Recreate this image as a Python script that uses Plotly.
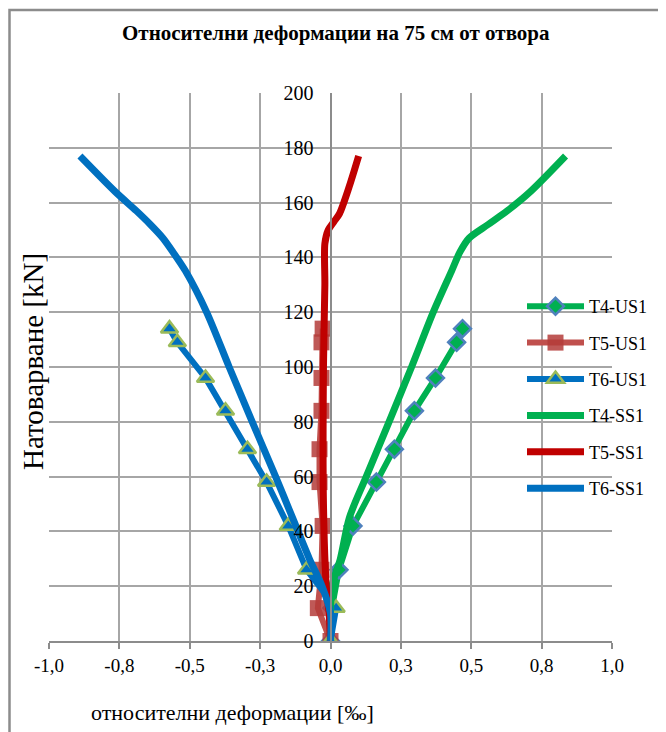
import plotly.graph_objects as go

# ---- data ----
load_us1 = [0, 12, 26, 42, 58, 70, 84, 96, 109, 114]
t4_us1 = [0.0, 0.005, 0.03, 0.08, 0.163, 0.227, 0.298, 0.373, 0.448, 0.469]
t5_us1 = [0.0, -0.045, -0.032, -0.028, -0.039, -0.039, -0.032, -0.032, -0.032, -0.028]
t6_us1 = [0.0, 0.02, -0.085, -0.15, -0.227, -0.295, -0.373, -0.444, -0.544, -0.572]

load_t4_ss1 = [0, 10, 20, 30, 45, 60, 80, 100, 120, 135, 142, 147, 152, 157, 164, 177]
t4_ss1 = [0.0, 0.0, 0.005, 0.035, 0.067, 0.127, 0.208, 0.288, 0.365, 0.43, 0.46, 0.492, 0.56, 0.628, 0.71, 0.835]

load_t5_ss1 = [0, 10, 20, 50, 100, 130, 145, 150, 153, 156, 166, 177]
t5_ss1 = [0.0, -0.005, -0.015, -0.025, -0.025, -0.02, -0.02, -0.008, 0.012, 0.032, 0.067, 0.1]

load_t6_ss1 = [0, 10, 20, 30, 45, 60, 80, 100, 120, 135, 142, 147, 152, 157, 164, 177]
t6_ss1 = [0.0, 0.0, -0.03, -0.075, -0.135, -0.195, -0.278, -0.36, -0.44, -0.515, -0.56, -0.595, -0.64, -0.69, -0.765, -0.89]

x_tickvals = [-1.0, -0.75, -0.5, -0.25, 0.0, 0.25, 0.5, 0.75, 1.0]
x_ticktext = ["-1,0", "-0,8", "-0,5", "-0,3", "0,0", "0,3", "0,5", "0,8", "1,0"]
y_tickvals = [0, 20, 40, 60, 80, 100, 120, 140, 160, 180, 200]

title_text = "Относителни деформации на 75 см от отвора"
x_title = "относителни деформации [‰]"
y_title = "Натоварване [kN]"

GREEN = "#00B050"
RED_US = "#C0504D"
RED_SS = "#C00000"
BLUE = "#0070C0"
DIAM_EDGE = "#4F81BD"
TRI_EDGE = "#9BBB59"
SERIF = "Liberation Serif, Times New Roman, serif"

fig = go.Figure()

fig.add_trace(go.Scatter(
    x=t4_us1, y=load_us1, name="T4-US1", mode="lines+markers", legendgroup="a",
    line=dict(color=GREEN, width=6),
    marker=dict(symbol="diamond", size=13, color=GREEN, line=dict(color=DIAM_EDGE, width=2.5))))
fig.add_trace(go.Scatter(
    x=t5_us1, y=load_us1, name="T5-US1", mode="lines+markers", legendgroup="b",
    line=dict(color=RED_US, width=6),
    marker=dict(symbol="square", size=16, color="rgba(180,60,58,0.85)", line=dict(width=0))))
fig.add_trace(go.Scatter(
    x=t6_us1, y=load_us1, name="T6-US1", mode="lines+markers", legendgroup="c",
    line=dict(color=BLUE, width=6),
    marker=dict(symbol="triangle-up", size=15, color=BLUE, line=dict(color=TRI_EDGE, width=2.5))))
fig.add_trace(go.Scatter(
    x=t4_ss1, y=load_t4_ss1, name="T4-SS1", mode="lines", legendgroup="d",
    line=dict(color=GREEN, width=7, shape="spline", smoothing=0.8)))
fig.add_trace(go.Scatter(
    x=t5_ss1, y=load_t5_ss1, name="T5-SS1", mode="lines", legendgroup="e",
    line=dict(color=RED_SS, width=7, shape="spline", smoothing=0.8)))
fig.add_trace(go.Scatter(
    x=t6_ss1, y=load_t6_ss1, name="T6-SS1", mode="lines", legendgroup="f",
    line=dict(color=BLUE, width=7, shape="spline", smoothing=0.8)))

# page body has an 8px default margin; lay out in page pixels
OFF = 8
W, H = 666 - OFF, 732 - OFF
L = 49 - OFF
T = 93 - OFF
R = W - (612 - OFF)
B = H - (641 - OFF)
pw, ph = W - L - R, H - T - B

def px_x(p):
    return (p - OFF - L) / pw

def px_y(p):
    return (H - B - (p - OFF)) / ph

fig.update_layout(
    width=W, height=H,
    margin=dict(l=L, r=R, t=T, b=B),
    paper_bgcolor="white", plot_bgcolor="white",
    font=dict(family=SERIF, color="black"),
    showlegend=True,
    legend=dict(
        x=px_x(522), y=px_y(288), xanchor="left", yanchor="top",
        bgcolor="rgba(0,0,0,0)", font=dict(size=18, family=SERIF),
        itemwidth=57, tracegroupgap=10, traceorder="grouped"),
    xaxis=dict(
        range=[-1, 1], tickvals=x_tickvals, ticktext=x_ticktext,
        showgrid=True, gridcolor="#A6A6A6", gridwidth=2,
        zeroline=False, showline=True, linecolor="#8C8C8C", linewidth=2,
        ticks="outside", ticklen=6, tickcolor="#8C8C8C", tickwidth=2,
        tickfont=dict(size=19, family=SERIF)),
    yaxis=dict(
        range=[0, 200], tickvals=y_tickvals,
        anchor="free", position=0.5, side="left",
        showgrid=True, gridcolor="#A6A6A6", gridwidth=2,
        zeroline=False, showline=True, linecolor="#8C8C8C", linewidth=2,
        ticks="", ticklabelstandoff=12,
        tickfont=dict(size=20, family=SERIF)),
    annotations=[
        dict(text="<b>" + title_text + "</b>", xref="paper", yref="paper",
             x=px_x(336), y=px_y(33), xanchor="center", yanchor="middle",
             showarrow=False, font=dict(size=21, family=SERIF)),
        dict(text=y_title, xref="paper", yref="paper",
             x=px_x(33), y=px_y(362), xanchor="center", yanchor="middle",
             textangle=-90, showarrow=False, font=dict(size=29, family=SERIF)),
        dict(text=x_title, xref="paper", yref="paper",
             x=px_x(232), y=px_y(712), xanchor="center", yanchor="middle",
             showarrow=False, font=dict(size=22, family=SERIF)),
    ],
    shapes=[
        dict(type="rect", xref="paper", yref="paper",
             x0=px_x(9.5), y0=px_y(760), x1=px_x(700), y1=px_y(10),
             line=dict(color="#8C8C8C", width=2.5), fillcolor="rgba(0,0,0,0)", layer="below"),
    ],
)

fig.write_html("out.html")
